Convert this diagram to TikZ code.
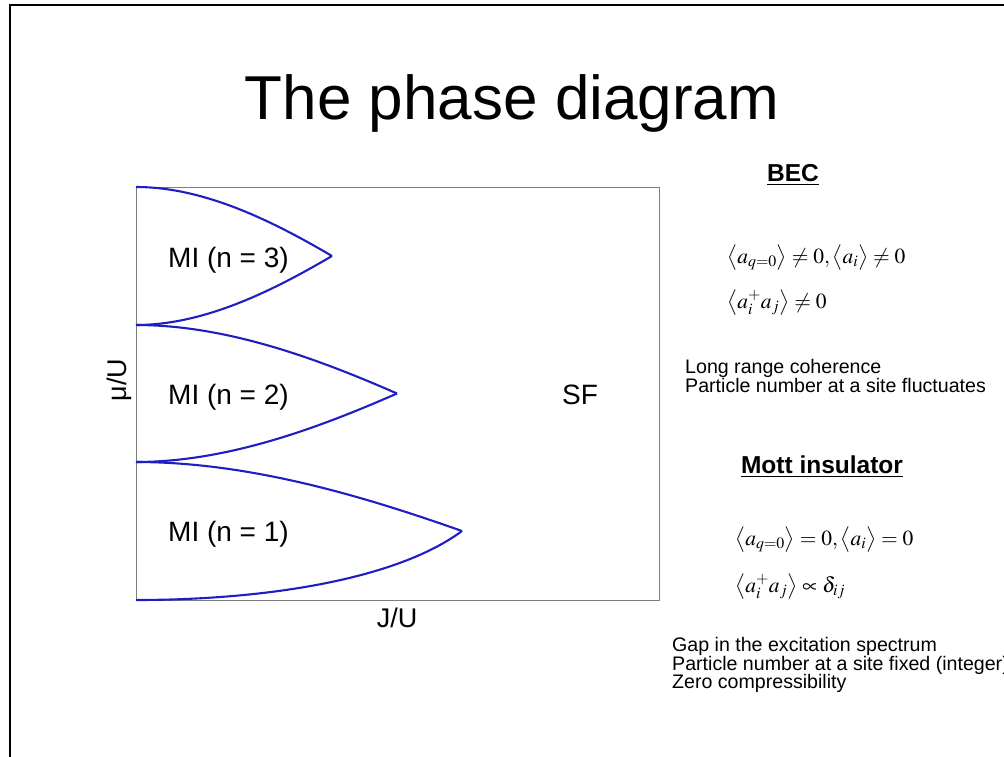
\documentclass[tikz,border=0pt]{standalone}
\usepackage{mathptmx}
\usepackage[no-math]{fontspec}
\setmainfont{Liberation Sans}
\definecolor{lobeblue}{RGB}{30,30,195}
\definecolor{boxgray}{RGB}{125,125,125}

\begin{document}
\begin{tikzpicture}[x=1pt, y=-1pt,
  lobe/.style={lobeblue, line width=2.1pt},
  phase/.style={anchor=base west, font=\fontsize{28}{28}\selectfont},
  heading/.style={anchor=base, inner sep=0pt, font=\bfseries\fontsize{24.5}{24.5}\selectfont},
  formula/.style={anchor=base west, inner sep=0pt, font=\fontsize{21.5}{21.5}\selectfont},
  remark/.style={anchor=base west, inner sep=0pt, font=\fontsize{19.6}{19.6}\selectfont}]
	\useasboundingbox (0,0) rectangle (1004,757);
	\draw[line width=2pt] (9.5,780) -- (9.5,5) -- (1030,5);
	\node[anchor=base, inner sep=0pt, font=\fontsize{62}{62}\selectfont] (title) at (512,120) {The phase diagram};
	% plot box and Mott lobes
	\draw[boxgray, line width=0.9pt] (136,187) rectangle (659,600);
	\coordinate (tip3) at (332,256);
	\coordinate (tip2) at (397,393.5);
	\coordinate (tip1) at (462,531);
	\draw[lobe] (136,187) .. controls (204.6,187) and (273.2,221.5) .. (tip3);
	\draw[lobe] (136,325) .. controls (204.6,325) and (273.2,290.5) .. (tip3);
	\draw[lobe] (136,325) .. controls (227.4,325) and (318.7,359.3) .. (tip2);
	\draw[lobe] (136,462) .. controls (227.4,462) and (318.7,427.8) .. (tip2);
	\draw[lobe] (136,462) .. controls (250.1,462) and (364.2,496.5) .. (tip1);
	\draw[lobe] (136,600) .. controls (266.4,600) and (396.8,579.3) .. (tip1);
	\node[phase, inner sep=0pt] (mi3) at (168,267) {MI (n = 3)};
	\node[phase, inner sep=0pt] (mi2) at (168,404) {MI (n = 2)};
	\node[phase, inner sep=0pt] (mi1) at (168,541) {MI (n = 1)};
	\node[phase, inner sep=0pt] (sf) at (562,404) {SF};
	\node[rotate=90, font=\fontsize{27}{27}\selectfont] (muaxis) at (119,380) {μ/U};
	\node[anchor=base, inner sep=0pt, font=\fontsize{27}{27}\selectfont] (jaxis) at (397,627) {J/U};
	% superfluid side
	\node[heading] (bec) at (793,181) {\underline{BEC}};
	\node[formula] (bec-eq1) at (727,263) {$\bigl\langle a_{q=0}\bigr\rangle \neq 0, \bigl\langle a_i\bigr\rangle \neq 0$};
	\node[formula] (bec-eq2) at (727,308) {$\bigl\langle a_i^{+} a_j\bigr\rangle \neq 0$};
	\node[remark] (bec-note1) at (685,373) {Long range coherence};
	\node[remark] (bec-note2) at (685,392) {Particle number at a site fluctuates};
	% insulating side
	\node[heading] (mott) at (822,473) {\underline{Mott insulator}};
	\node[formula] (mott-eq1) at (735,545) {$\bigl\langle a_{q=0}\bigr\rangle = 0, \bigl\langle a_i\bigr\rangle = 0$};
	\node[formula] (mott-eq2) at (735,592) {$\bigl\langle a_i^{+} a_j\bigr\rangle \propto \delta_{ij}$};
	\node[remark] (mott-note1) at (672,651) {Gap in the excitation spectrum};
	\node[remark] (mott-note2) at (672,670) {Particle number at a site fixed (integer)};
	\node[remark] (mott-note3) at (672,688) {Zero compressibility};
\end{tikzpicture}
\end{document}
